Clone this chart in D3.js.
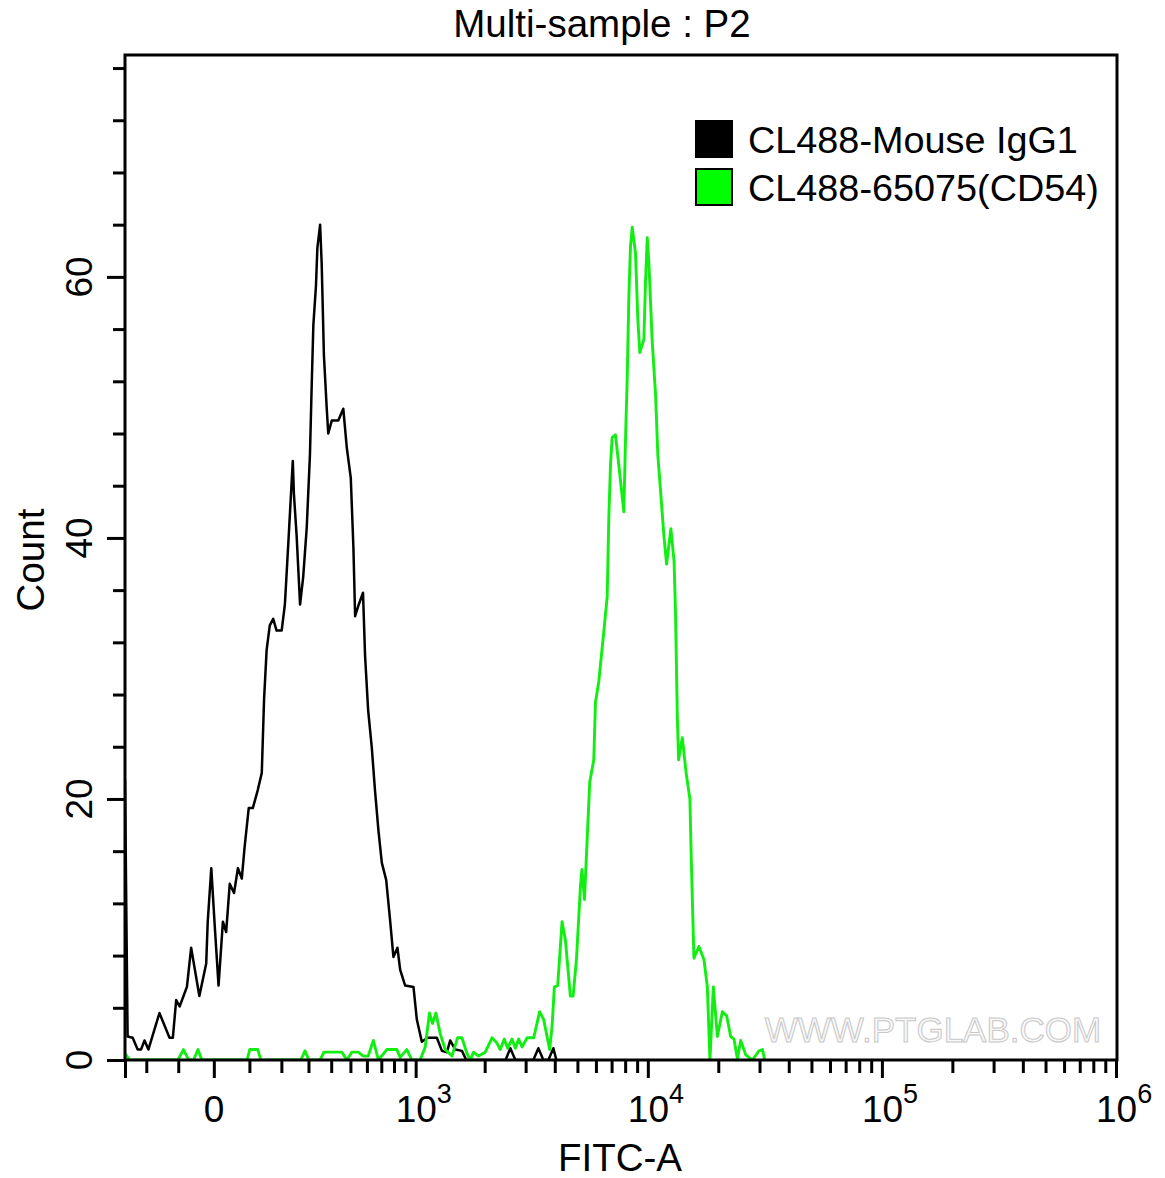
<!DOCTYPE html>
<html>
<head>
<meta charset="utf-8">
<script src="https://cdn.jsdelivr.net/npm/d3@7"></script>
<style>
  body { margin: 0; background: #fff; }
  text { font-family: "Liberation Sans", Arial, sans-serif; fill: #000; }
</style>
</head>
<body>
<div id="chart"></div>
<script>
// histogram data, FITC-A intensity vs count
const isotypeFitc = [-277,-267,-248,-230,-218,-206,-193,-157,-126,-116,-106,-96,-75,-63,-40,-21,-17,-7,2,13,25,34,44,56,67,78,86,98,110,125,137,144,152,162,173,184,201,212,224,240,244,254,267,279,293,306,313,320,331,337,349,356,366,379,386,403,435,461,480,502,517,527,546,575,588,608,632,655,679,704,737,768,795,829,853,898,978,1012,1065,1128,1240,1305,1372,1418,1491,1595,1665,2460,2579,2710,3237,3402,3575,3755,3945,4063];
const isotypeCount = [21.5,1.8,1.7,0.8,0.8,1.5,0.8,3.6,1.7,1.7,4.6,4.1,5.6,8.6,4.9,7.4,10.5,14.7,10.5,5.7,10.6,9.8,13.5,12.8,14.7,13.9,16.3,19.3,19.3,20.7,22.0,27.6,31.4,33.3,33.8,32.9,32.9,34.9,39.6,45.9,43.4,40.2,34.9,37.0,40.8,46.4,51.6,56.3,59.3,62.2,64.0,61.0,54.0,49.9,48.0,49.0,49.0,49.9,46.9,44.6,39.3,34.0,34.8,35.8,31.0,26.8,24.0,20.6,17.6,15.1,13.8,10.7,7.9,8.6,6.9,5.7,5.6,3.1,1.4,1.7,1.7,0.7,0.6,1.5,0.8,0.7,0,0,0.9,0,0,0.9,0,0,0.9,0];

const cd54Fitc = [-277,-259,-101,-85,-70,-56,-44,-33,93,101,125,134,270,286,302,349,366,454,480,508,546,577,608,643,679,742,824,853,914,962,1047,1102,1151,1186,1228,1283,1349,1443,1526,1595,1677,1733,1791,1882,2012,2151,2260,2335,2429,2511,2622,2710,2800,2896,3044,3248,3445,3585,3803,3895,3984,4117,4298,4441,4665,4791,4952,5152,5228,5359,5503,5646,5874,5972,6171,6482,6703,6810,6925,7042,7274,7588,7896,8030,8165,8294,8434,8576,8859,9064,9243,9616,9778,9943,10102,10444,10790,11038,11335,11710,12026,12547,12947,13140,13362,13535,14039,14574,15128,15338,15739,16531,17366,17959,18424,19054,19824,20818,21714,22596,23338,24136,24934,26194,27972,29848,30884,31584];
const cd54Count = [0.5,0,0,0.8,0,0,0.8,0,0,0.8,0.8,0,0,0.7,0,0,0.6,0.6,0,0.6,0.6,0.3,0.3,1.5,0,0.8,0.8,0.2,0.8,0,0,1.0,3.6,2.8,3.6,2.0,0.8,0.3,1.7,1.7,0.5,0,0.6,0.3,0.6,1.7,1.3,0.8,1.6,0.9,1.6,0.9,1.6,1.0,1.7,1.7,3.7,3.1,0.8,2.6,5.6,5.7,10.6,9.2,4.9,4.9,7.7,13.3,14.6,12.3,16.9,21.3,23.0,27.4,29.0,32.8,35.5,41.5,45.6,47.7,47.9,44.9,42.0,47.6,52.3,58.4,62.4,63.8,61.8,56.7,54.2,55.2,59.7,63.0,61.1,55.0,51.0,46.3,43.6,40.2,38.0,40.7,38.2,34.0,26.4,23.0,24.7,22.0,20.0,15.3,7.8,8.7,7.7,5.6,0,5.6,1.8,3.7,3.4,1.8,1.6,0.1,1.5,0.4,0,0.7,0.8,0];

const seriesNames = ["CL488-Mouse IgG1", "CL488-65075(CD54)"];
const seriesColors = ["#000000", "#00ff00"];

const yMajor = [0, 20, 40, 60];
const yMinor = [4, 8, 12, 16, 24, 28, 32, 36, 44, 48, 52, 56, 64, 68, 72, 76];
const xMajor = [0, 1e3, 1e4, 1e5, 1e6];
const xMajorLabels = [["0", ""], ["10", "3"], ["10", "4"], ["10", "5"], ["10", "6"]];
const xMinor = [-200, -100];
[100, 1000, 10000, 100000].forEach(d => {
  for (let k = (d === 100 ? 1 : 2); k <= 9; k++) xMinor.push(k * d);
});

const W = 1165, H = 1178;
const pLeft = 125, pRight = 1116, pTop = 55, pBottom = 1060;
const xMin = -277, xMax = 1e6;

// biexponential-like display transform
const tf = v => Math.asinh(v / 280);
const xT = d3.scaleLinear().domain([tf(xMin), tf(xMax)]).range([pLeft, pRight]);
const x = v => xT(tf(v));
const y = d3.scaleLinear().domain([0, 77]).range([pBottom, pTop]);

const svg = d3.select("#chart").append("svg")
  .attr("width", W).attr("height", H);

svg.append("defs").append("clipPath").attr("id", "plot")
  .append("rect").attr("x", pLeft).attr("y", pTop)
  .attr("width", pRight - pLeft + 2).attr("height", pBottom - pTop);

const line = d3.line().x(d => x(d[0])).y(d => y(d[1]));

const g = svg.append("g").attr("clip-path", "url(#plot)");
g.append("path")
  .datum(d3.zip(isotypeFitc, isotypeCount))
  .attr("d", line).attr("fill", "none")
  .attr("stroke", seriesColors[0]).attr("stroke-width", 2.5)
  .attr("stroke-linejoin", "round");
g.append("path")
  .datum(d3.zip(cd54Fitc, cd54Count))
  .attr("d", line).attr("fill", "none")
  .attr("stroke", "#11ee11").attr("stroke-width", 2.9)
  .attr("stroke-linejoin", "round");

// watermark
svg.append("text")
  .attr("x", 933).attr("y", 1042)
  .attr("text-anchor", "middle")
  .style("font-size", "35px")
  .style("fill", "#f8f8f8")
  .style("stroke", "#c8c8c8").style("stroke-width", 1)
  .text("WWW.PTGLAB.COM");

// frame
svg.append("rect")
  .attr("x", pLeft).attr("y", pTop)
  .attr("width", pRight + 1 - pLeft).attr("height", pBottom - pTop)
  .attr("fill", "none").attr("stroke", "#000").attr("stroke-width", 3);

// y axis
const yAxisMinor = d3.axisLeft(y).tickValues(yMinor).tickSize(12).tickFormat("");
const yAxisMajor = d3.axisLeft(y).tickValues(yMajor).tickSize(18).tickFormat("");
[yAxisMinor, yAxisMajor].forEach(ax => {
  const a = svg.append("g").attr("transform", `translate(${pLeft},0)`).call(ax);
  a.select(".domain").remove();
  a.selectAll("line").attr("stroke-width", 3);
});
svg.selectAll(".ylab").data(yMajor).join("text")
  .attr("class", "ylab")
  .attr("transform", d => `translate(92,${y(d)}) rotate(-90)`)
  .attr("text-anchor", "middle")
  .style("font-size", "37px")
  .text(d => d);

// x axis
const xAxisMinor = d3.axisBottom(xT).tickValues(xMinor.map(tf)).tickSize(13).tickFormat("");
const xAxisMajor = d3.axisBottom(xT).tickValues([xMin].concat(xMajor).map(tf)).tickSize(18).tickFormat("");
[xAxisMinor, xAxisMajor].forEach(ax => {
  const a = svg.append("g").attr("transform", `translate(0,${pBottom})`).call(ax);
  a.select(".domain").remove();
  a.selectAll("line").attr("stroke-width", 3);
});
const xl = svg.selectAll(".xlab").data(xMajor).join("text")
  .attr("class", "xlab")
  .attr("x", d => x(d))
  .attr("y", 1122)
  .style("font-size", "37px");
xl.append("tspan").text((d, i) => xMajorLabels[i][0])
  .attr("dx", (d, i) => xMajorLabels[i][1] ? -20 : -10);
xl.append("tspan").text((d, i) => xMajorLabels[i][1])
  .attr("dy", -19).style("font-size", "27px");

// titles
svg.append("text").attr("x", 602).attr("y", 37)
  .attr("text-anchor", "middle").style("font-size", "38.5px")
  .text("Multi-sample : P2");
svg.append("text").attr("x", 620).attr("y", 1171)
  .attr("text-anchor", "middle").style("font-size", "38.5px")
  .text("FITC-A");
svg.append("text")
  .attr("transform", "translate(44,560) rotate(-90)")
  .attr("text-anchor", "middle").style("font-size", "38.5px")
  .text("Count");

// legend
const leg = svg.selectAll(".leg").data(seriesNames).join("g")
  .attr("class", "leg")
  .attr("transform", (d, i) => `translate(695,${120 + i * 48})`);
leg.append("rect")
  .attr("x", 1).attr("y", 1).attr("width", 36).attr("height", 36)
  .attr("fill", (d, i) => seriesColors[i])
  .attr("stroke", "#000").attr("stroke-width", 2);
leg.append("text")
  .attr("x", 53).attr("y", 33)
  .style("font-size", "37.8px")
  .text(d => d);
</script>
</body>
</html>
